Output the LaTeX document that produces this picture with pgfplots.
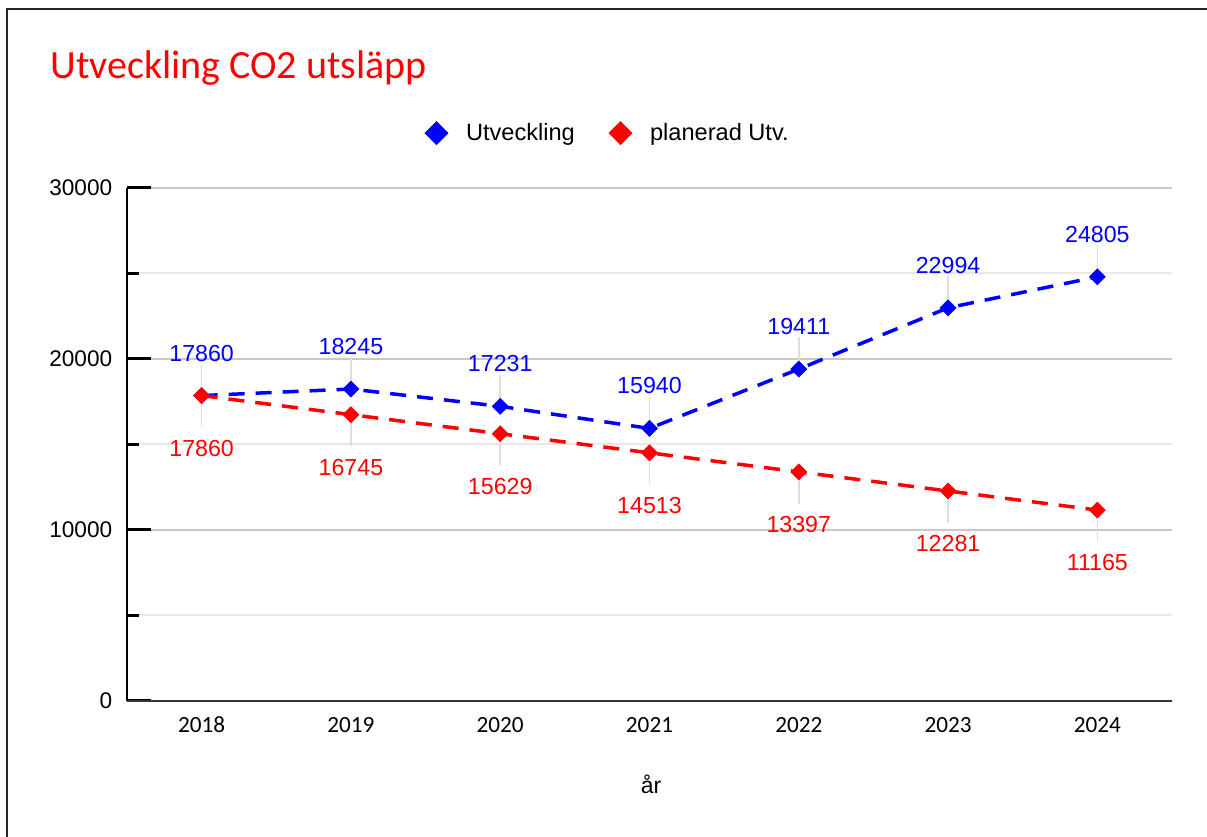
\documentclass[border=0pt]{standalone}
\usepackage{fontspec}
\setmainfont{Liberation Sans}
\newfontfamily\calibri{Carlito}
\usepackage{pgfplots}
\pgfplotsset{compat=1.18}
\definecolor{myblue}{RGB}{0,0,255}
\definecolor{myred}{RGB}{255,0,0}
\definecolor{majgrid}{RGB}{200,200,200}
\definecolor{mingrid}{RGB}{232,232,232}
\definecolor{leader}{RGB}{222,222,222}
\begin{document}
\begin{tikzpicture}
\path[use as bounding box] (0,0) rectangle (603.5bp,418.5bp);
\draw[line width=1.2bp, black!85] (3.4bp,0) -- (3.4bp,413.9bp) -- (603.5bp,413.9bp);
\node[anchor=base west, inner sep=0pt, text=myred, font=\calibri\fontsize{20bp}{24bp}\selectfont] at (25bp,379bp) {Utveckling CO2 utsläpp};
\begin{axis}[
  at={(63.5bp,68bp)}, anchor=south west,
  scale only axis, width=522.5bp, height=256.5bp,
  xmin=-0.5, xmax=6.5, ymin=0, ymax=30000,
  axis line style={draw=none},
  tick align=inside, tick pos=left,
  xtick={0,...,6}, xticklabels={2018,2019,2020,2021,2022,2023,2024},
  xtick style={draw=none},
  xticklabel style={font=\calibri\fontsize{11.6bp}{13bp}\selectfont, inner sep=0pt, anchor=north, yshift=-7.8bp},
  ytick={0,10000,20000,30000}, yticklabels={0,10000,20000,30000},
  minor ytick={5000,15000,25000},
  scaled y ticks=false,
  yticklabel style={font=\fontsize{11.3bp}{13bp}\selectfont, inner sep=0pt, anchor=east, xshift=-7.2bp},
  major tick length=12bp, minor tick length=6bp,
  ytick style={black, line width=1.5bp},
  ymajorgrids, yminorgrids,
  major grid style={majgrid, line width=1bp},
  minor grid style={mingrid, line width=1bp},
  clip=false,
  legend columns=2,
  legend style={at={(0.461,1.107)}, anchor=center, draw=none, fill=none,
    font=\fontsize{11.8bp}{14bp}\selectfont,
    /tikz/every even column/.append style={column sep=15bp}},
  legend image code/.code={\draw[#1, solid, mark size=4.1bp] plot coordinates {(0bp,0bp)};
    \path[draw=none] (-5.8bp,0bp) (12.8bp,0bp);},
]
\addplot[forget plot, draw=none, mark=none,
  error bars/.cd, y dir=plus, y fixed=1850, error mark=none,
  error bar style={draw=leader, line width=0.75bp, solid}]
  coordinates {(0,17860)(1,18245)(2,17231)(3,15940)(4,19411)(5,22994)(6,24805)};
\addplot[forget plot, draw=none, mark=none,
  error bars/.cd, y dir=minus, y fixed=1850, error mark=none,
  error bar style={draw=leader, line width=0.75bp, solid}]
  coordinates {(0,17860)(1,16745)(2,15629)(3,14513)(4,13397)(5,12281)(6,11165)};
\addplot[myblue, line width=1.75bp, dash pattern=on 8bp off 5.5bp,
  mark=square*, mark size=2.83bp, mark options={solid, rotate=45, line width=0.3bp, fill=myblue},
  point meta=explicit symbolic, nodes near coords,
  every node near coord/.append style={anchor=south, inner sep=0pt, yshift=17bp,
    font=\fontsize{11.6bp}{13bp}\selectfont, text=myblue}]
  coordinates {(0,17860)[17860] (1,18245)[18245] (2,17231)[17231] (3,15940)[15940] (4,19411)[19411] (5,22994)[22994] (6,24805)[24805]};
\addlegendentry{Utveckling}
\addplot[myred, line width=1.75bp, dash pattern=on 8bp off 5.5bp,
  mark=square*, mark size=2.83bp, mark options={solid, rotate=45, line width=0.3bp, fill=myred},
  point meta=explicit symbolic, nodes near coords,
  every node near coord/.append style={anchor=north, inner sep=0pt, yshift=-22bp,
    font=\fontsize{11.6bp}{13bp}\selectfont, text=myred}]
  coordinates {(0,17860)[17860] (1,16745)[16745] (2,15629)[15629] (3,14513)[14513] (4,13397)[13397] (5,12281)[12281] (6,11165)[11165]};
\addlegendentry{planerad Utv.}
\draw[black, line width=1bp] (rel axis cs:0,0) -- (rel axis cs:0,1);
\draw[black!80, line width=1.2bp] (rel axis cs:0,0) -- (rel axis cs:1,0);
\end{axis}
\node[anchor=base, inner sep=0pt, font=\fontsize{11.5bp}{13bp}\selectfont] at (325.5bp,22bp) {år};
\end{tikzpicture}
\end{document}
